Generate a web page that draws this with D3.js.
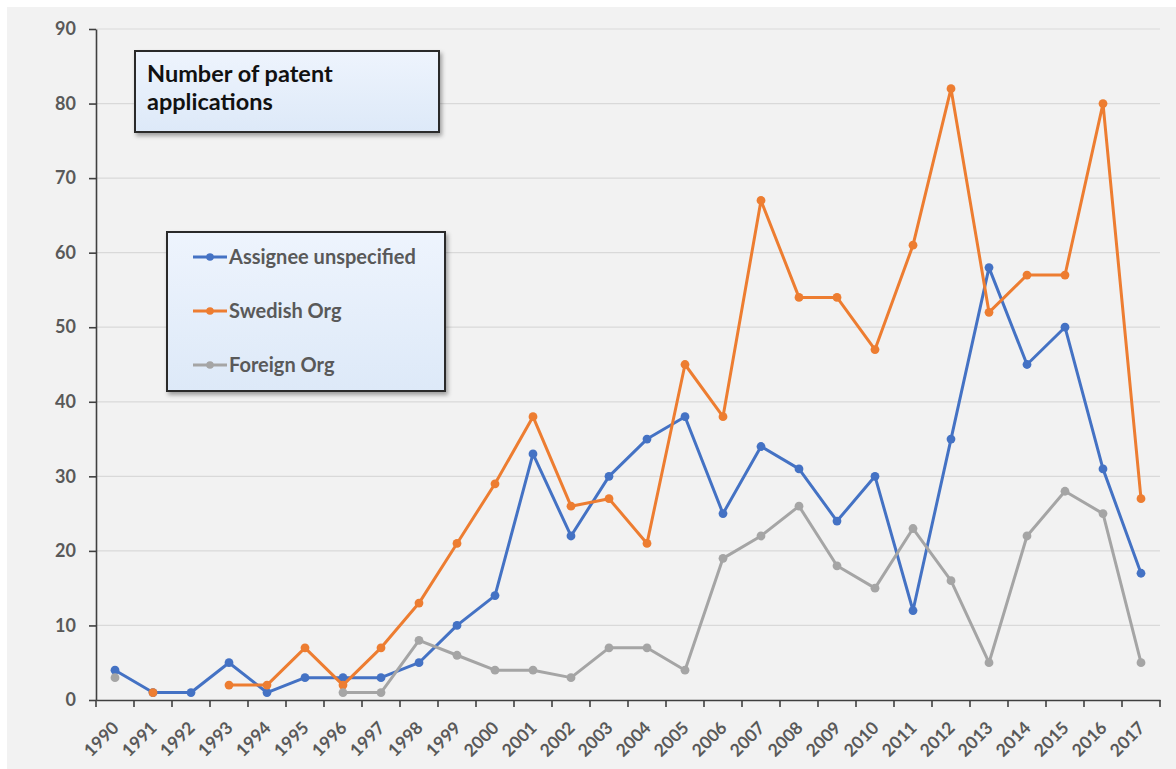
<!DOCTYPE html>
<html>
<head>
<meta charset="utf-8">
<script src="https://cdn.jsdelivr.net/npm/d3@7"></script>
<style>
  html, body { margin: 0; padding: 0; background: #ffffff; }
  svg { display: block; }
</style>
</head>
<body>
<svg id="chart" width="1176" height="769"></svg>
<script>
const years = ["1990","1991","1992","1993","1994","1995","1996","1997","1998","1999","2000","2001","2002","2003","2004","2005","2006","2007","2008","2009","2010","2011","2012","2013","2014","2015","2016","2017"];
const assigneeUnspecified = [4,1,1,5,1,3,3,3,5,10,14,33,22,30,35,38,25,34,31,24,30,12,35,58,45,50,31,17];
const swedishOrg = [null,1,null,2,2,7,2,7,13,21,29,38,26,27,21,45,38,67,54,54,47,61,82,52,57,57,80,27];
const foreignOrg = [3,null,null,null,null,null,1,1,8,6,4,4,3,7,7,4,19,22,26,18,15,23,16,5,22,28,25,5];
const yTicks = [0,10,20,30,40,50,60,70,80,90];
const seriesNames = ["Assignee unspecified","Swedish Org","Foreign Org"];
const seriesColors = ["#4472c4","#ed7d31","#a5a5a5"];
const titleLines = ["Number of patent","applications"];

(function () {
const series = [assigneeUnspecified, swedishOrg, foreignOrg].map((vals, i) => ({
  name: seriesNames[i], color: seriesColors[i],
  values: vals.map((v, j) => ({year: years[j], value: v}))
}));

const svg = d3.select("#chart");
const W = 1176, H = 769;
const mLeft = 96, mRight = 1160, mTop = 29, mBottom = 700;
const FONT = "Lato, 'Open Sans', sans-serif";

svg.append("rect").attr("x", 0).attr("y", 0).attr("width", W).attr("height", H).attr("fill", "#ffffff");
svg.append("rect").attr("x", 7).attr("y", 7).attr("width", W - 7).attr("height", H - 7).attr("fill", "#f2f2f2");

const x = d3.scaleBand().domain(years).range([mLeft, mRight]).paddingInner(0).paddingOuter(0);
const y = d3.scaleLinear().domain([0, 90]).range([mBottom, mTop]);

const defs = svg.append("defs");
const grad = defs.append("linearGradient").attr("id", "boxgrad").attr("x1", 0).attr("y1", 0).attr("x2", 0).attr("y2", 1);
grad.append("stop").attr("offset", "0%").attr("stop-color", "#eef4fd");
grad.append("stop").attr("offset", "100%").attr("stop-color", "#dde9f8");
const filt = defs.append("filter").attr("id", "shadow").attr("x", "-10%").attr("y", "-10%").attr("width", "130%").attr("height", "140%");
filt.append("feDropShadow").attr("dx", 2).attr("dy", 3).attr("stdDeviation", 2).attr("flood-color", "#000").attr("flood-opacity", 0.35);

svg.append("g").selectAll("line").data(yTicks.filter(t => t > 0)).join("line")
  .attr("x1", mLeft).attr("x2", mRight)
  .attr("y1", d => y(d)).attr("y2", d => y(d))
  .attr("stroke", "#d9d9d9").attr("stroke-width", 1.2);

const yAxis = svg.append("g").attr("transform", `translate(${mLeft},0)`)
  .call(d3.axisLeft(y).tickValues(yTicks).tickSize(7).tickSizeOuter(0).tickPadding(13));
yAxis.select(".domain").attr("stroke", "#404040").attr("stroke-width", 1.6);
yAxis.selectAll(".tick line").attr("stroke", "#404040").attr("stroke-width", 1.6);
yAxis.selectAll(".tick text").attr("fill", "#595959").attr("font-family", FONT)
  .attr("font-weight", "bold").attr("font-size", 18);

const xAxis = svg.append("g").attr("transform", `translate(0,${mBottom})`)
  .call(d3.axisBottom(x).tickSize(0).tickSizeOuter(0));
xAxis.select(".domain").attr("stroke", "#404040").attr("stroke-width", 1.6);
const boundaries = years.map(yr => x(yr)).concat([x(years[years.length - 1]) + x.bandwidth()]);
svg.append("g").selectAll("line").data(boundaries).join("line")
  .attr("x1", d => d).attr("x2", d => d).attr("y1", mBottom).attr("y2", mBottom + 7)
  .attr("stroke", "#404040").attr("stroke-width", 1.6);
xAxis.selectAll(".tick text")
  .attr("fill", "#595959").attr("font-family", FONT)
  .attr("font-weight", "bold").attr("font-size", 17.5)
  .attr("text-anchor", "end").attr("dy", null)
  .attr("transform", "translate(5,29) rotate(-45)")
  .attr("y", 0).attr("x", 0);

const line = d3.line().defined(d => d.value != null)
  .x(d => x(d.year) + x.bandwidth() / 2).y(d => y(d.value));
series.forEach(s => {
  const g = svg.append("g");
  g.append("path").datum(s.values).attr("d", line).attr("fill", "none")
    .attr("stroke", s.color).attr("stroke-width", 3).attr("stroke-linejoin", "round");
  g.selectAll("circle").data(s.values.filter(d => d.value != null)).join("circle")
    .attr("cx", d => x(d.year) + x.bandwidth() / 2).attr("cy", d => y(d.value))
    .attr("r", 4.4).attr("fill", s.color);
});

const tb = svg.append("g");
tb.append("rect").attr("x", 135).attr("y", 51).attr("width", 304).attr("height", 81)
  .attr("fill", "url(#boxgrad)").attr("stroke", "#2b2b2b").attr("stroke-width", 2).attr("filter", "url(#shadow)");
tb.selectAll("text").data(titleLines).join("text")
  .attr("x", 147).attr("y", (d, i) => 82 + i * 28)
  .attr("font-family", FONT).attr("font-weight", "bold").attr("font-size", 23.5)
  .attr("fill", "#111").text(d => d);

const lg = svg.append("g");
lg.append("rect").attr("x", 167).attr("y", 232).attr("width", 278).attr("height", 159)
  .attr("fill", "url(#boxgrad)").attr("stroke", "#2b2b2b").attr("stroke-width", 2).attr("filter", "url(#shadow)");
const items = lg.selectAll("g.item").data(series).join("g").attr("class", "item")
  .attr("transform", (d, i) => `translate(0,${257 + i * 54})`);
items.append("line").attr("x1", 193).attr("x2", 227).attr("y1", 0).attr("y2", 0)
  .attr("stroke", d => d.color).attr("stroke-width", 3);
items.append("circle").attr("cx", 210).attr("cy", 0).attr("r", 3.8).attr("fill", d => d.color);
items.append("text").attr("x", 229).attr("y", 0).attr("dy", "0.35em")
  .attr("font-family", FONT).attr("font-weight", "bold").attr("font-size", 20)
  .attr("fill", "#595959").text(d => d.name);
})();
</script>
</body>
</html>
